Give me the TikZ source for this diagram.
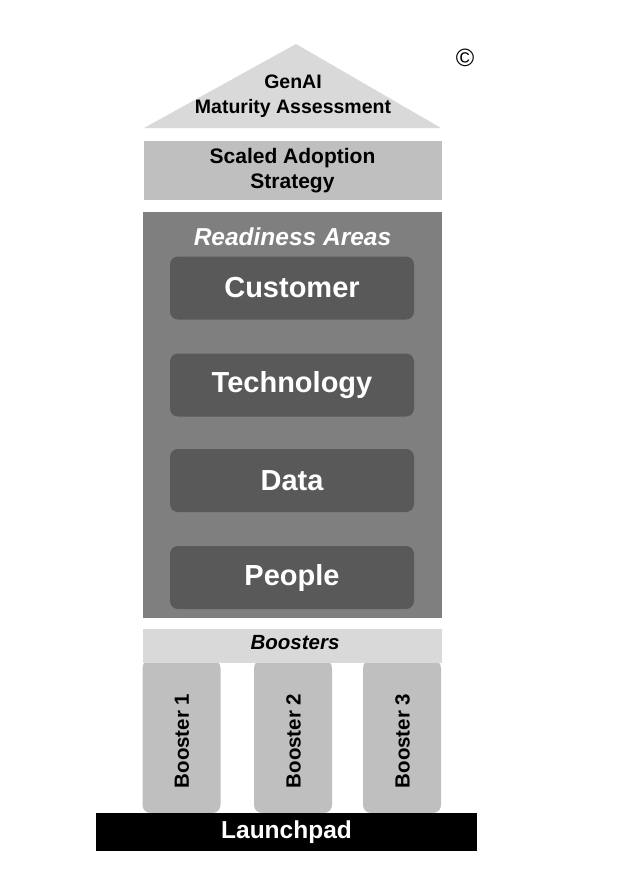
\documentclass[tikz,border=0pt]{standalone}
\usepackage{fontspec}
\setmainfont{Liberation Sans}
\definecolor{roofc}{HTML}{D9D9D9}
\definecolor{stratc}{HTML}{BFBFBF}
\definecolor{areac}{HTML}{7F7F7F}
\definecolor{innerc}{HTML}{595959}
\definecolor{barc}{HTML}{D9D9D9}
\definecolor{pillarc}{HTML}{BFBFBF}
\tikzset{
  areabox/.style={fill=innerc, rounded corners=8pt, minimum width=244pt, minimum height=63pt, inner sep=0pt,
    text=white, font=\bfseries\fontsize{29}{32}\selectfont},
  pillar/.style={fill=pillarc, rounded corners=8pt, minimum width=78pt, minimum height=153pt, inner sep=0pt},
  pillartext/.style={rotate=90, font=\bfseries\fontsize{20.5}{24}\selectfont, inner sep=0pt},
}
\begin{document}
\begin{tikzpicture}[x=1pt,y=-1pt]
\useasboundingbox (0,0) rectangle (618,895);
% roof
\fill[roofc] (144,128) -- (296,44) -- (441,128) -- cycle;
\node[align=center, font=\bfseries\fontsize{19.5}{25.5}\selectfont, inner sep=0pt] (roof) at (293,96) {GenAI\\Maturity Assessment};
\node[font=\fontsize{25}{28}\selectfont, inner sep=0pt] (copy) at (465,58) {©};
% strategy
\node[fill=stratc, minimum width=298pt, minimum height=59pt, inner sep=0pt, align=center,
  font=\bfseries\fontsize{21}{25}\selectfont] (strat) at (292.5,170.5) {Scaled Adoption\\Strategy};
% readiness
\node[fill=areac, minimum width=299pt, minimum height=406pt, inner sep=0pt] (areas) at (292.5,414.5) {};
\node[anchor=base, text=white, font=\bfseries\itshape\fontsize{24.5}{28}\selectfont, inner sep=0pt] (areatitle) at (292.5,245) {Readiness Areas};
\node[areabox] (customer) at (292,288) {Customer};
\node[areabox] (technology) at (292,385) {Technology};
\node[areabox] (data) at (292,480.5) {Data};
\node[areabox] (people) at (292,577.5) {People};
% pillars
\node[pillar] (p1) at (181.5,736.5) {};
\node[pillar] (p2) at (293,736.5) {};
\node[pillar] (p3) at (402,736.5) {};
\node[pillartext] (t1) at (182,741) {Booster 1};
\node[pillartext] (t2) at (293.5,741) {Booster 2};
\node[pillartext] (t3) at (402.5,741) {Booster 3};
% boosters bar
\node[fill=barc, minimum width=299pt, minimum height=34pt, inner sep=0pt] (bar) at (292.5,646) {};
\node[anchor=base, font=\bfseries\itshape\fontsize{20.5}{24}\selectfont, inner sep=0pt] (bartext) at (295,649) {Boosters};
% launchpad
\node[fill=black, minimum width=381pt, minimum height=38pt, inner sep=0pt, text=white,
  font=\bfseries\fontsize{24.5}{28}\selectfont] (launch) at (286.5,832) {Launchpad};
\end{tikzpicture}
\end{document}
